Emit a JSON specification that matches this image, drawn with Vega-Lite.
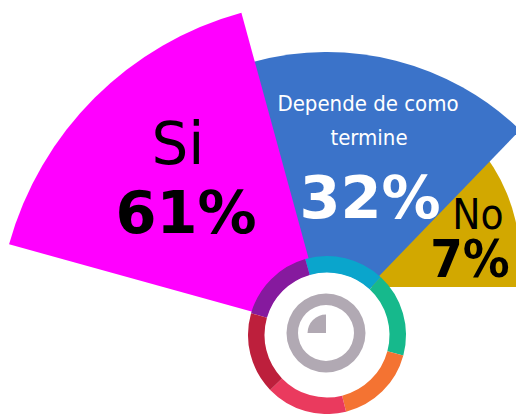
{"$schema":"https://vega.github.io/schema/vega-lite/v6.json","width":516,"height":414,"padding":0,"autosize":"none","background":"white","config":{"view":{"stroke":null}},
"datasets":{"arcs":[
{"part":"No","pct":7,"cx":345,"cy":260,"a":30,"b":180,"r0":0,"r":175},
{"part":"mask","x":340,"x2":516,"y":287,"y2":414},
{"part":"Depende de como termine","pct":32,"cx":327,"cy":330,"a":-15.3,"b":44,"r0":0,"r":278},
{"part":"Si","pct":61,"cx":329,"cy":333,"a":-74.5,"b":-15.3,"r0":0,"r":332},
{"part":"disc","cx":327,"cy":335,"a":0,"b":360,"r0":0,"r":63},
{"part":"s1","cx":327,"cy":335,"a":-74,"b":-16,"r0":62.5,"r":79},
{"part":"s2","cx":327,"cy":335,"a":-16,"b":43,"r0":62.5,"r":79},
{"part":"s3","cx":327,"cy":335,"a":43,"b":105,"r0":62.5,"r":79},
{"part":"s4","cx":327,"cy":335,"a":105,"b":166,"r0":62.5,"r":79},
{"part":"s5","cx":327,"cy":335,"a":166,"b":226,"r0":62.5,"r":79},
{"part":"s6","cx":327,"cy":335,"a":226,"b":286,"r0":62.5,"r":79},
{"part":"icon","cx":326,"cy":333,"a":0,"b":360,"r0":28,"r":39.5},
{"part":"icon","cx":326,"cy":333,"a":-90,"b":0,"r0":0,"r":18.5}
]},
"encoding":{
"x":{"field":"cx","type":"quantitative","scale":{"domain":[0,516],"nice":false},"axis":null},
"y":{"field":"cy","type":"quantitative","scale":{"domain":[414,0],"nice":false},"axis":null}
},
"layer":[
{"data":{"name":"arcs"},"transform":[{"filter":"datum.part=='No'"}],"mark":{"type":"arc"},"encoding":{
"theta":{"field":"a","type":"quantitative","scale":{"domain":[0,360],"range":[0,6.283185]},"stack":null},
"theta2":{"field":"b"},
"radius":{"field":"r","type":"quantitative","scale":{"type":"linear","domain":[0,400],"range":[0,400]}},
"radius2":{"field":"r0"},
"color":{"value":"#d2a800"}
}},
{"data":{"name":"arcs"},"transform":[{"filter":"datum.part=='mask'"}],"mark":{"type":"rect","fill":"white"},"encoding":{
"x":{"field":"x","type":"quantitative"},"x2":{"field":"x2"},"y":{"field":"y","type":"quantitative"},"y2":{"field":"y2"}
}},
{"data":{"name":"arcs"},"transform":[{"filter":"datum.part!='No'&&datum.part!='mask'"}],"mark":{"type":"arc"},"encoding":{
"theta":{"field":"a","type":"quantitative","scale":{"domain":[0,360],"range":[0,6.283185]},"stack":null},
"theta2":{"field":"b"},
"radius":{"field":"r","type":"quantitative","scale":{"type":"linear","domain":[0,400],"range":[0,400]}},
"radius2":{"field":"r0"},
"fill":{"field":"part","type":"nominal","legend":null,"scale":{"domain":["Depende de como termine","Si","disc","s1","s2","s3","s4","s5","s6","icon"],"range":["#3b73c9","#ff00ff","#ffffff","#861a9e","#0aa5cc","#16b98c","#f47332","#ea3a5e","#bd1f3c","#b1a9b3"]}}
}},
{"data":{"values":[{"t":"Si","x":178,"y":147}]},"mark":{"type":"text","font":"DejaVu Sans","fontSize":58,"fill":"black","align":"center","baseline":"middle"},"encoding":{"x":{"field":"x","type":"quantitative"},"y":{"field":"y","type":"quantitative"},"text":{"field":"t"}}},
{"data":{"values":[{"t":"No","x":478,"y":216}]},"mark":{"type":"text","font":"DejaVu Sans Condensed","fontSize":42,"fill":"black","align":"center","baseline":"middle"},"encoding":{"x":{"field":"x","type":"quantitative"},"y":{"field":"y","type":"quantitative"},"text":{"field":"t"}}},
{"data":{"values":[{"t":"61%","x":186,"y":215}]},"mark":{"type":"text","font":"DejaVu Sans","fontWeight":"bold","fontSize":59,"fill":"black","align":"center","baseline":"middle"},"encoding":{"x":{"field":"x","type":"quantitative"},"y":{"field":"y","type":"quantitative"},"text":{"field":"t"}}},
{"data":{"values":[{"t":"32%","x":370,"y":200}]},"mark":{"type":"text","font":"DejaVu Sans","fontWeight":"bold","fontSize":59,"fill":"white","align":"center","baseline":"middle"},"encoding":{"x":{"field":"x","type":"quantitative"},"y":{"field":"y","type":"quantitative"},"text":{"field":"t"}}},
{"data":{"values":[{"t":"7%","x":470,"y":261}]},"mark":{"type":"text","font":"DejaVu Sans Condensed","fontWeight":"bold","fontSize":52,"fill":"black","align":"center","baseline":"middle"},"encoding":{"x":{"field":"x","type":"quantitative"},"y":{"field":"y","type":"quantitative"},"text":{"field":"t"}}},
{"data":{"values":[{"t":"Depende de como","x":368,"y":104},{"t":"termine","x":369,"y":138}]},"mark":{"type":"text","font":"DejaVu Sans Condensed","fontSize":22,"fill":"white","align":"center","baseline":"middle"},"encoding":{"x":{"field":"x","type":"quantitative"},"y":{"field":"y","type":"quantitative"},"text":{"field":"t"}}}
]}
